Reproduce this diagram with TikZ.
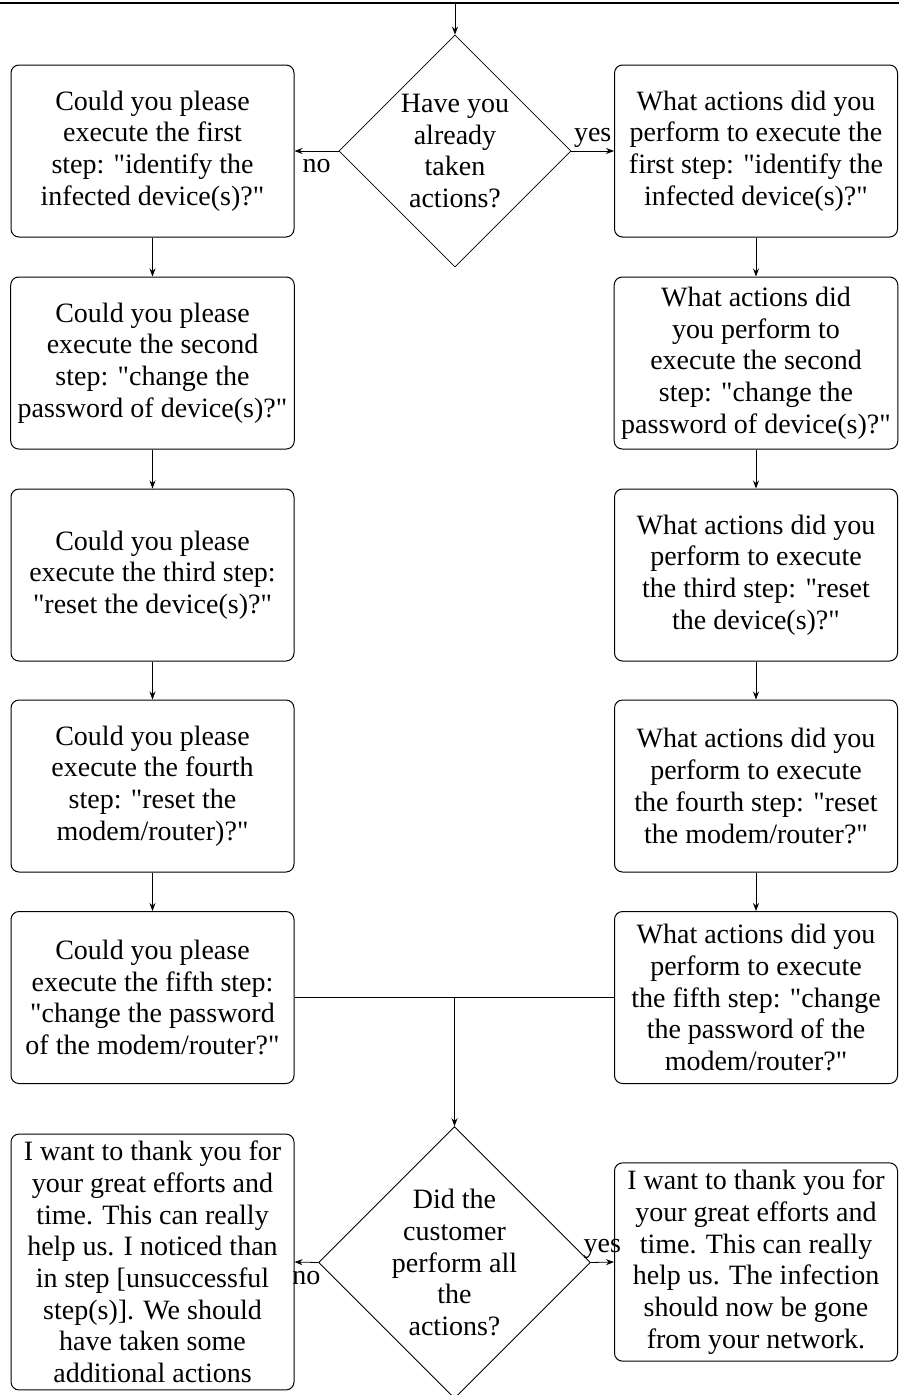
\documentclass[tikz,border=0pt]{standalone}
\usepackage{fontspec}
\setmainfont{Liberation Serif}[Ligatures=TeXOff]
\usetikzlibrary{shapes.geometric,arrows.meta}
\begin{document}
\begin{tikzpicture}[x=1pt,y=-1pt,
  every node/.style={font=\fontsize{28}{31.7}\selectfont},
  box/.style={draw, rounded corners=8pt, minimum width=283pt, minimum height=172pt, align=center, inner sep=7pt, line width=1pt},
  dec/.style={draw, diamond, align=center, inner sep=0pt, line width=0.8pt},
  arr/.style={-{Stealth[length=8pt,width=6pt]}, line width=0.8pt},
  conn/.style={line width=0.8pt},
  nolbl/.style={below, yshift=-5pt}]
\useasboundingbox (0,0) rectangle (899,1395);
% top rule and entry
\coordinate (tl) at (0,3);
\coordinate (tr) at (899,3);
\coordinate (tm) at (455,3);
\draw[conn, line width=1.2pt] (tl) -- (tr);
% decisions
\node[dec, minimum width=232pt, minimum height=232pt] (d1) at (455,151) {Have you\\already\\taken\\actions?};
\node[dec, minimum width=265pt, minimum height=263pt] (d2) at (454.5,1262.5) {Did the\\customer\\perform all\\the\\actions?};
% left column
\node[box] (L1) at (152.5,151) {Could you please\\execute the first\\step: "identify the\\infected device(s)?"};
\node[box] (L2) at (152.5,363) {Could you please\\execute the second\\step: "change the\\password of device(s)?"};
\node[box] (L3) at (152.5,575) {Could you please\\execute the third step:\\"reset the device(s)?"};
\node[box] (L4) at (152.5,786) {Could you please\\execute the fourth\\step: "reset the\\modem/router)?"};
\node[box] (L5) at (152.5,997.5) {Could you please\\execute the fifth step:\\"change the password\\of the modem/router?"};
% right column
\node[box] (R1) at (756,151) {What actions did you\\perform to execute the\\first step: "identify the\\infected device(s)?"};
\node[box] (R2) at (756,363) {What actions did\\you perform to\\execute the second\\step: "change the\\password of device(s)?"};
\node[box] (R3) at (756,575) {What actions did you\\perform to execute\\the third step: "reset\\the device(s)?"};
\node[box] (R4) at (756,786) {What actions did you\\perform to execute\\the fourth step: "reset\\the modem/router?"};
\node[box] (R5) at (756,997.5) {What actions did you\\perform to execute\\the fifth step: "change\\the password of the\\modem/router?"};
% outcomes
\node[box, minimum height=0pt] (BL) at (152.5,1262) {I want to thank you for\\your great efforts and\\time. This can really\\help us. I noticed than\\in step [unsuccessful\\step(s)]. We should\\have taken some\\additional actions};
\node[box, minimum height=0pt] (BR) at (756,1262) {I want to thank you for\\your great efforts and\\time. This can really\\help us. The infection\\should now be gone\\from your network.};
% connectors
\draw[arr] (tm) -- (d1.north);
\draw[arr] (d1.west) -- node[nolbl]{no} (L1.east);
\draw[arr] (d1.east) -- node[above]{yes} (R1.west);
\draw[arr] (L1.south) -- (L2.north);
\draw[arr] (L2.south) -- (L3.north);
\draw[arr] (L3.south) -- (L4.north);
\draw[arr] (L4.south) -- (L5.north);
\draw[arr] (R1.south) -- (R2.north);
\draw[arr] (R2.south) -- (R3.north);
\draw[arr] (R3.south) -- (R4.north);
\draw[arr] (R4.south) -- (R5.north);
\draw[conn] (L5.east) -- (R5.west);
\coordinate (j) at (d2.north |- L5.east);
\draw[arr] (j) -- (d2.north);
\draw[arr] (d2.west) -- node[nolbl]{no} (BL.east);
\draw[arr] (d2.east) -- node[above]{yes} (BR.west);
\end{tikzpicture}
\end{document}
